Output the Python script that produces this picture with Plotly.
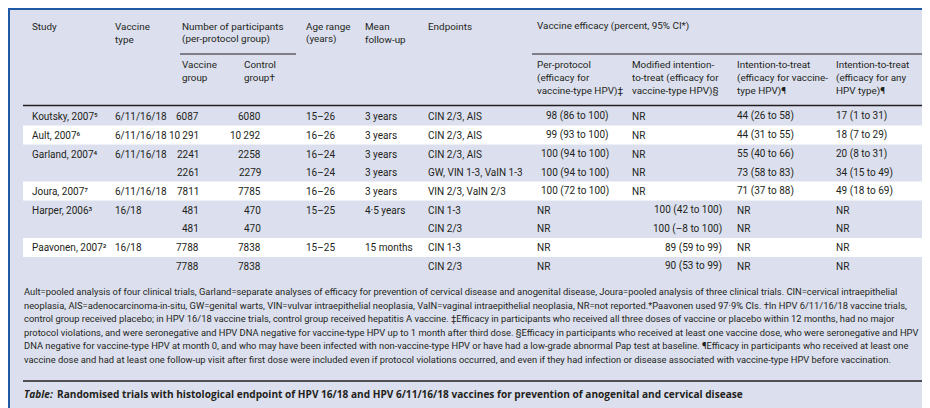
import plotly.graph_objects as go

# ---------------- data ----------------
studies = ["Koutsky, 2007⁵", "Ault, 2007⁶", "Garland, 2007⁴", "",
           "Joura, 2007⁷", "Harper, 2006³", "", "Paavonen, 2007²", ""]
vaccine_types = ["6/11/16/18", "6/11/16/18", "6/11/16/18", "", "6/11/16/18", "16/18", "", "16/18", ""]
n_vaccine = [6087, 10291, 2241, 2261, 7811, 481, 481, 7788, 7788]
n_control = [6080, 10292, 2258, 2279, 7785, 470, 470, 7838, 7838]
age_ranges = ["15–26", "16–26", "16–24", "16–24", "16–26", "15–25", "", "15–25", ""]
follow_up = ["3 years", "3 years", "3 years", "3 years", "3 years", "4·5 years", "", "15 months", ""]
endpoints = ["CIN 2/3, AIS", "CIN 2/3, AIS", "CIN 2/3, AIS", "GW, VIN 1-3, VaIN 1-3",
             "VIN 2/3, VaIN 2/3", "CIN 1-3", "CIN 2/3", "CIN 1-3", "CIN 2/3"]
per_protocol = ["98 (86 to 100)", "99 (93 to 100)", "100 (94 to 100)", "100 (94 to 100)",
                "100 (72 to 100)", "NR", "NR", "NR", "NR"]
modified_itt = ["NR", "NR", "NR", "NR", "NR", "100 (42 to 100)", "100 (–8 to 100)",
                "89 (59 to 99)", "90 (53 to 99)"]
itt_vaccine = ["44 (26 to 58)", "44 (31 to 55)", "55 (40 to 66)", "73 (58 to 83)",
               "71 (37 to 88)", "NR", "NR", "NR", "NR"]
itt_any = ["17 (1 to 31)", "18 (7 to 29)", "20 (8 to 31)", "34 (15 to 49)",
           "49 (18 to 69)", "NR", "NR", "NR", "NR"]
white_rows = [1, 4, 7]

top_headers = [
    ("Study", ["Study"]),
    ("Vaccine type", ["Vaccine", "type"]),
    ("Number of participants", ["Number of participants", "(per-protocol group)"]),
    ("Age range", ["Age range", "(years)"]),
    ("Mean follow-up", ["Mean", "follow-up"]),
    ("Endpoints", ["Endpoints"]),
    ("Vaccine efficacy", ["Vaccine efficacy (percent, 95% CI*)"]),
]
sub_headers = [
    ("Vaccine group", ["Vaccine", "group"]),
    ("Control group", ["Control", "group†"]),
    ("Per-protocol", ["Per-protocol", "(efficacy for", "vaccine-type HPV)‡"]),
    ("Modified ITT", ["Modified intention-", "to-treat (efficacy for", "vaccine-type HPV)§"]),
    ("ITT vaccine", ["Intention-to-treat", "(efficacy for vaccine-", "type HPV)¶"]),
    ("ITT any", ["Intention-to-treat", "(efficacy for any", "HPV type)¶"]),
]

footnotes = [
    "Ault=pooled analysis of four clinical trials, Garland=separate analyses of efficacy for prevention of cervical disease and anogenital disease, Joura=pooled analysis of three clinical trials. CIN=cervical intraepithelial",
    "neoplasia, AIS=adenocarcinoma-in-situ, GW=genital warts, VIN=vulvar intraepithelial neoplasia, VaIN=vaginal intraepithelial neoplasia, NR=not reported.*Paavonen used 97·9% CIs. †In HPV 6/11/16/18 vaccine trials,",
    "control group received placebo; in HPV 16/18 vaccine trials, control group received hepatitis A vaccine. ‡Efficacy in participants who received all three doses of vaccine or placebo within 12 months, had no major",
    "protocol violations, and were seronegative and HPV DNA negative for vaccine-type HPV up to 1 month after third dose. §Efficacy in participants who received at least one vaccine dose, who were seronegative and HPV",
    "DNA negative for vaccine-type HPV at month 0, and who may have been infected with non-vaccine-type HPV or have had a low-grade abnormal Pap test at baseline. ¶Efficacy in participants who received at least one",
    "vaccine dose and had at least one follow-up visit after first dose were included even if protocol violations occurred, and even if they had infection or disease associated with vaccine-type HPV before vaccination.",
]
caption_label = "Table:"
caption_text = "Randomised trials with histological endpoint of HPV 16/18 and HPV 6/11/16/18 vaccines for prevention of anogenital and cervical disease"

# ---------------- style / layout ----------------
W, H = 930, 408
BG = "#dcdfee"
BORDER = "#1f5aa6"
INK = "#231f20"
FONT = "Roboto"
FS = 10
FS_HEAD = 9.9
FS_NOTE = 9.35
CAP_FONT = "Open Sans"
FS_CAP = 10.1

top_x = [22, 105, 172, 296, 355, 418, 527]
sub_x = [172, 234, 527, 622, 727, 826]
top_y = [18, 31]
sub_y = [56.5, 69.5, 82.5]
row_y = [108, 127, 146, 164.5, 183, 202, 220.5, 239.5, 258]
note_y = [283, 297, 310.5, 324, 337.5, 351]
band_h = 19

fig = go.Figure()
fig.add_trace(go.Scatter(x=[0], y=[0], mode="markers", marker=dict(opacity=0), hoverinfo="skip",
                         showlegend=False))

shapes = []
shapes.append(dict(type="rect", x0=1, y0=1, x1=924, y1=403, fillcolor=BG,
                   line=dict(color=BORDER, width=2), layer="below"))
for r in white_rows:
    shapes.append(dict(type="rect", x0=15, x1=917, y0=row_y[r] - band_h / 2, y1=row_y[r] + band_h / 2,
                       fillcolor="white", line=dict(width=0), layer="below"))
shapes.append(dict(type="line", x0=172, x1=288, y0=46, y1=46, line=dict(color=INK, width=1)))
shapes.append(dict(type="line", x0=524, x1=917, y0=46, y1=46, line=dict(color=INK, width=1)))
shapes.append(dict(type="line", x0=15, x1=917, y0=97.5, y1=97.5, line=dict(color=INK, width=1.5)))
shapes.append(dict(type="line", x0=15, x1=917, y0=373, y1=373, line=dict(color=INK, width=1.5)))

ann = []


def txt(x, y, s, anchor="left", size=FS, color=INK, family=FONT, weight="normal", style="normal"):
    ann.append(dict(x=x, y=y, xref="x", yref="y", text=s, showarrow=False, xanchor=anchor,
                    yanchor="middle", align=anchor,
                    font=dict(family=family, size=size, color=color, weight=weight, style=style)))


for x, (_, lines) in zip(top_x, top_headers):
    for y, line in zip(top_y, lines):
        txt(x, y, line, size=FS_HEAD)
for x, (_, lines) in zip(sub_x, sub_headers):
    for y, line in zip(sub_y, lines):
        txt(x, y, line, size=FS_HEAD)


def fmt_n(n):
    s = f"{n:,}"
    return s.replace(",", "\u2009") if n >= 10000 else s.replace(",", "")


for i, y in enumerate(row_y):
    if studies[i]:
        txt(22, y, studies[i])
    if vaccine_types[i]:
        txt(105, y, vaccine_types[i])
    txt(193, y, fmt_n(n_vaccine[i]), anchor="right")
    txt(255, y, fmt_n(n_control[i]), anchor="right")
    if age_ranges[i]:
        txt(296, y, age_ranges[i])
    if follow_up[i]:
        txt(355, y, follow_up[i])
    txt(418, y, endpoints[i])
    if per_protocol[i] == "NR":
        txt(527, y, per_protocol[i])
    else:
        txt(603, y, per_protocol[i], anchor="right")
    if modified_itt[i] == "NR":
        txt(622, y, modified_itt[i])
    else:
        txt(716, y, modified_itt[i], anchor="right")
    txt(727, y, itt_vaccine[i])
    txt(826, y, itt_any[i])

for y, line in zip(note_y, footnotes):
    txt(14, y, line, size=FS_NOTE)

txt(14, 386, caption_label, size=FS_CAP, family=CAP_FONT, weight="bold", style="italic")
txt(47, 386, caption_text, size=FS_CAP, family=CAP_FONT, weight="bold")

fig.update_layout(
    width=W, height=H, margin=dict(l=0, r=0, t=0, b=0),
    paper_bgcolor="white", plot_bgcolor="white",
    xaxis=dict(range=[0, W], visible=False, fixedrange=True),
    yaxis=dict(range=[H, 0], visible=False, fixedrange=True),
    shapes=shapes, annotations=ann, showlegend=False,
)
fig.write_html("out.html")
